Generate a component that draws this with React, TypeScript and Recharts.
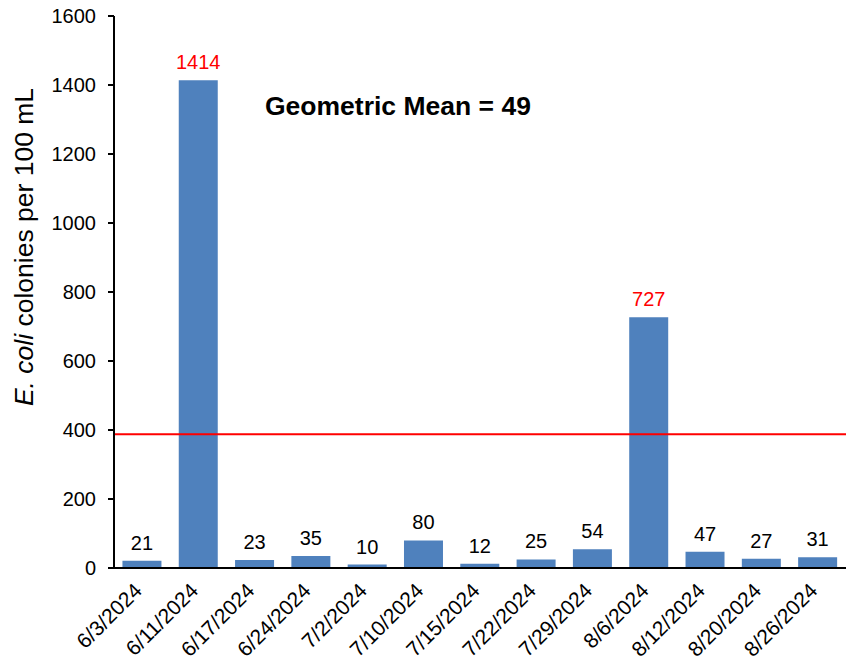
import { BarChart, Bar, XAxis, YAxis, ReferenceLine, LabelList, Label } from "recharts";

const dates = [
  "6/3/2024", "6/11/2024", "6/17/2024", "6/24/2024", "7/2/2024", "7/10/2024", "7/15/2024",
  "7/22/2024", "7/29/2024", "8/6/2024", "8/12/2024", "8/20/2024", "8/26/2024",
];
const counts = [21, 1414, 23, 35, 10, 80, 12, 25, 54, 727, 47, 27, 31];
const yTicks = [0, 200, 400, 600, 800, 1000, 1200, 1400, 1600];
// red limit line (drawn a touch under 400 in the original)
const limitLevel = 388;
const geoMean = 49;

const data = dates.map((date, i) => ({ date, count: counts[i] }));

const font = '"Liberation Sans", Arial, sans-serif';

function DateTick({ x, y, payload }: any) {
  return (
    <g transform={`translate(${x + 1},${y + 16})`}>
      <text textAnchor="end" transform="rotate(-45)" fontSize={21} fill="#000" fontFamily={font}>
        {payload.value}
      </text>
    </g>
  );
}

function ValueLabel({ x, y, width, value }: any) {
  return (
    <text
      x={x + width / 2}
      y={y - 11}
      textAnchor="middle"
      fontSize={20}
      fontFamily={font}
      fill={value > 400 ? "#FF0000" : "#000"}
    >
      {value}
    </text>
  );
}

function AxisTitle() {
  return (
    <text x={33} y={247} transform="rotate(-90, 33, 247)" textAnchor="middle" fontSize={26.5} fontFamily={font} fill="#000">
      <tspan fontStyle="italic">E. coli</tspan>
      <tspan> colonies per 100 mL</tspan>
    </text>
  );
}

export default function App() {
  return (
    <div style={{ position: "absolute", left: 0, top: 0, width: 856, height: 662, background: "#fff", fontFamily: font }}>
      <BarChart width={856} height={662} data={data} margin={{ top: 16, right: 10, left: 0, bottom: 0 }} barCategoryGap="15%">
        <XAxis
          dataKey="date"
          height={94}
          axisLine={{ stroke: "#000", strokeWidth: 2 }}
          tickLine={false}
          tick={<DateTick />}
          interval={0}
        />
        <YAxis
          width={114}
          domain={[0, 1600]}
          ticks={yTicks}
          axisLine={{ stroke: "#000", strokeWidth: 2 }}
          tickLine={{ stroke: "#000", strokeWidth: 2 }}
          tickSize={6}
          tickMargin={12}
          tick={{ fill: "#000", fontSize: 20, fontFamily: font }}
        >
          <Label content={<AxisTitle />} />
        </YAxis>
        <Bar dataKey="count" fill="#4F81BD" isAnimationActive={false}>
          <LabelList dataKey="count" content={<ValueLabel />} />
        </Bar>
        <ReferenceLine y={limitLevel} stroke="#FF0000" strokeWidth={2} />
      </BarChart>
      <div
        style={{
          position: "absolute",
          left: 265,
          top: 90,
          fontSize: 26.5,
          fontWeight: "bold",
          color: "#000",
          lineHeight: "32px",
          whiteSpace: "nowrap",
        }}
      >
        Geometric Mean = {geoMean}
      </div>
    </div>
  );
}
